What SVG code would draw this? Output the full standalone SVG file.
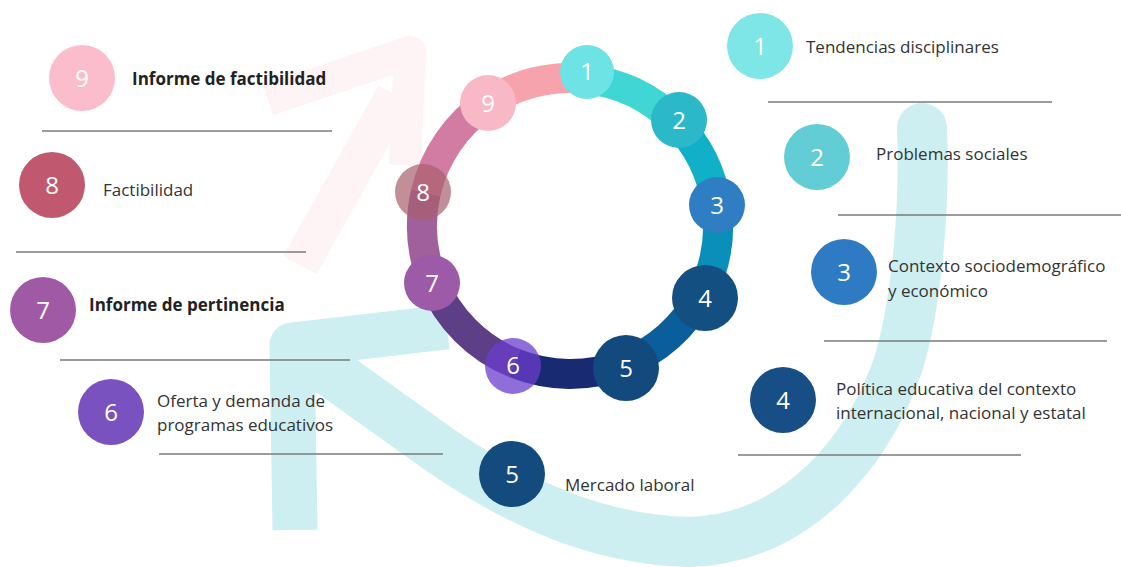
<svg xmlns="http://www.w3.org/2000/svg" width="1121" height="567" viewBox="0 0 1121 567">
<style>
.lbl{font-family:"Open Sans","Liberation Sans",sans-serif;font-size:17px;fill:#333333}
.bold{font-weight:700;fill:#222222}
.num{font-family:"Open Sans","Liberation Sans",sans-serif;font-size:24px;fill:#ffffff;text-anchor:middle}
.sep{stroke:#7a7a7a;stroke-width:1.4;fill:none}
.seg{fill:none;stroke-width:30}
.cy{fill:none;stroke:#cdeff2;stroke-linecap:butt;stroke-linejoin:round}
.pk{fill:none;stroke:#fef3f5;stroke-linejoin:round}
</style>
<rect width="1121" height="567" fill="#ffffff"/>
<g id="background">
  <path class="pk" stroke-width="38" d="M300 265 L395 95"/>
  <path class="pk" stroke-width="32" d="M268 100 L410 52 L405 165"/>
  <path class="cy" stroke-width="50" d="M300 350 L440 450 C520 505 600 540 690 542 C800 538 868 450 898 365 C918 300 925 200 922 128"/>
  <path class="cy" stroke-width="45" d="M295 530 L292 345 L447 327"/>
  <circle cx="922" cy="128" r="25" fill="#cdeff2"/>
</g>
<g id="connectors">
  <path class="seg" stroke="#3fd6d4" d="M585.5 78.8 A148 148 0 0 1 674.7 121.3"/>
  <path class="seg" stroke="#0fb0c8" d="M674.7 121.3 A148 148 0 0 1 716.6 205.4"/>
  <path class="seg" stroke="#0a8fbb" d="M716.6 205.4 A148 148 0 0 1 700.7 295.5"/>
  <path class="seg" stroke="#0a5e9c" d="M700.7 295.5 A148 148 0 0 1 623.0 364.2"/>
  <path class="seg" stroke="#182a72" d="M623.0 364.2 A148 148 0 0 1 514.6 363.2"/>
  <path class="seg" stroke="#5c3f86" d="M514.6 363.2 A148 148 0 0 1 432.8 281.4"/>
  <path class="seg" stroke="#a0609c" d="M432.8 281.4 A148 148 0 0 1 425.8 192.7"/>
  <path class="seg" stroke="#d27ba3" d="M425.8 192.7 A148 148 0 0 1 487.2 103.3"/>
  <path class="seg" stroke="#f7a3ae" d="M487.2 103.3 A148 148 0 0 1 585.5 78.8"/>
</g>
<g id="ring-1"><circle cx="587" cy="72" r="27" fill="#6de3e6"/><text class="num" x="587" y="80">1</text></g>
<g id="ring-2"><circle cx="679" cy="120" r="28" fill="#2bb9c9"/><text class="num" x="679" y="129">2</text></g>
<g id="ring-3"><circle cx="717" cy="205" r="28" fill="#2f7dc2"/><text class="num" x="717" y="214">3</text></g>
<g id="ring-4"><circle cx="705" cy="298" r="33" fill="#144f82"/><text class="num" x="705" y="307">4</text></g>
<g id="ring-5"><circle cx="626" cy="368" r="33" fill="#124a7d"/><text class="num" x="626" y="377">5</text></g>
<g id="ring-6"><circle cx="513" cy="366" r="28" fill="#6b3dcc" fill-opacity="0.75"/><text class="num" x="513" y="374">6</text></g>
<g id="ring-7"><circle cx="432" cy="283" r="28" fill="#9c5aa8"/><text class="num" x="432" y="292">7</text></g>
<g id="ring-8"><circle cx="423" cy="192" r="28" fill="#a8606c" fill-opacity="0.7"/><text class="num" x="423" y="201">8</text></g>
<g id="ring-9"><circle cx="488" cy="103" r="28" fill="#f9b8c6"/><text class="num" x="488" y="112">9</text></g>

<g id="item-1"><circle cx="760" cy="46" r="33" fill="#7ee6e6"/><text class="num" x="760" y="55">1</text><text class="lbl" x="806" y="53">Tendencias disciplinares</text><line class="sep" x1="768" y1="102" x2="1052" y2="102"/></g>
<g id="item-2"><circle cx="817" cy="157" r="33" fill="#63cdd5"/><text class="num" x="817" y="166">2</text><text class="lbl" x="876" y="160">Problemas sociales</text><line class="sep" x1="838" y1="215" x2="1121" y2="215"/></g>
<g id="item-3"><circle cx="844" cy="272" r="33" fill="#2e7bc4"/><text class="num" x="844" y="281">3</text><text class="lbl" x="888" y="272">Contexto sociodemográfico</text><text class="lbl" x="888" y="297">y económico</text><line class="sep" x1="824" y1="341" x2="1107" y2="341"/></g>
<g id="item-4"><circle cx="783" cy="400" r="33" fill="#164e85"/><text class="num" x="783" y="409">4</text><text class="lbl" x="836" y="395">Política educativa del contexto</text><text class="lbl" x="836" y="419">internacional, nacional y estatal</text><line class="sep" x1="738" y1="455" x2="1021" y2="455"/></g>
<g id="item-5"><circle cx="512" cy="474" r="33" fill="#134b7e"/><text class="num" x="512" y="483">5</text><text class="lbl" x="565" y="491">Mercado laboral</text></g>
<g id="item-6"><circle cx="111" cy="412" r="33" fill="#7a52c0"/><text class="num" x="111" y="421">6</text><text class="lbl" x="157" y="407">Oferta y demanda de</text><text class="lbl" x="157" y="431">programas educativos</text><line class="sep" x1="159" y1="454" x2="443" y2="454"/></g>
<g id="item-7"><circle cx="43" cy="310" r="33" fill="#a05aa5"/><text class="num" x="43" y="319">7</text><text class="lbl bold" x="89" y="311">Informe de pertinencia</text><line class="sep" x1="60" y1="360" x2="350" y2="360"/></g>
<g id="item-8"><circle cx="52" cy="185" r="33" fill="#c0596f"/><text class="num" x="52" y="194">8</text><text class="lbl" x="103" y="196">Factibilidad</text><line class="sep" x1="16" y1="252" x2="306" y2="252"/></g>
<g id="item-9"><circle cx="82" cy="78" r="33" fill="#fbbccb"/><text class="num" x="82" y="87">9</text><text class="lbl bold" x="132" y="85">Informe de factibilidad</text><line class="sep" x1="42" y1="131" x2="332" y2="131"/></g>
</svg>
